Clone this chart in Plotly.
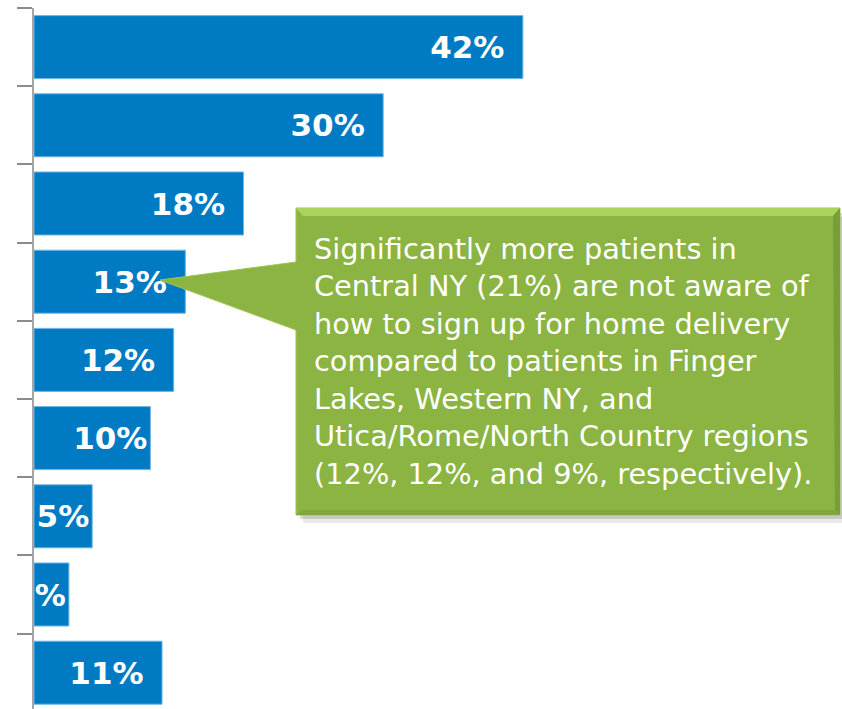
import plotly.graph_objects as go

# ---- data ----
values = [42, 30, 18, 13, 12, 10, 5, 3, 11]
positions = list(range(len(values)))
labels = [f"{v}%\u2002" if v >= 11 else f"{v}%" for v in values]
callout_lines = [
    "Significantly more patients in",
    "Central NY (21%) are not aware of",
    "how to sign up for home delivery",
    "compared to patients in Finger",
    "Lakes, Western NY, and",
    "Utica/Rome/North Country regions",
    "(12%, 12%, and 9%, respectively).",
]

W, H = 842, 709
ML, MR, MT, MB = 34, 0, 8, 0
PW, PH = W - ML - MR, H - MT - MB


def px(x):
    return (x - ML) / PW


def py(y):
    return 1 - (y - MT) / PH


def path(points):
    return "M " + " L ".join(f"{px(x):.5f},{py(y):.5f}" for x, y in points) + " Z"


fig = go.Figure()
fig.add_trace(go.Bar(
    x=values, y=positions, orientation="h",
    marker=dict(color="#007BC3", line=dict(color="#6FB6E6", width=1)),
    width=0.806,
    text=labels, textposition="inside", insidetextanchor="end",
    textangle=0, constraintext="none", cliponaxis=True,
    textfont=dict(family="DejaVu Sans", size=31, color="white", weight="bold"),
    hoverinfo="skip",
))

band = 78.2
y_top = -0.5
y_bot = y_top + PH / band

fig.update_layout(
    width=W, height=H,
    margin=dict(l=ML, r=MR, t=MT, b=MB, pad=0),
    paper_bgcolor="white", plot_bgcolor="white",
    showlegend=False,
    xaxis=dict(range=[0, PW / 11.64], visible=False, fixedrange=True),
    yaxis=dict(
        range=[y_bot, y_top], showgrid=False, zeroline=False, fixedrange=True,
        showline=True, linecolor="#A6A6A6", linewidth=2,
        ticks="outside", ticklen=15, tickwidth=2, tickcolor="#8C8C8C",
        tickmode="array", tickvals=[p - 0.5 for p in positions] + [len(values) - 0.5],
        showticklabels=False,
    ),
)

# callout (shadow, body with pointer, bevels)
def shp(points, fill, line=None):
    return dict(type="path", xref="paper", yref="paper", path=path(points),
                fillcolor=fill, line=line or dict(width=0), layer="above")


shapes = [
    shp([(303, 217), (846, 217), (846, 523), (303, 523)], "rgba(0,0,0,0.08)"),
    shp([(300, 213), (844, 213), (844, 519), (300, 519)], "rgba(0,0,0,0.14)"),
    shp([(296, 208), (840, 208), (840, 515), (296, 515),
         (296, 330), (160, 280), (296, 262)], "#8BB443",
        dict(color="#9DC655", width=1)),
    shp([(296, 208), (840, 208), (833, 216), (303, 216)], "#A8D35C"),
    shp([(840, 208), (840, 515), (835, 510), (833, 216)], "#789F37"),
    shp([(296, 515), (840, 515), (835, 510), (302, 510)], "#7FA83B"),
]
fig.update_layout(shapes=shapes)

fig.add_annotation(
    xref="paper", yref="paper", x=px(312), y=py(361),
    xanchor="left", yanchor="middle", align="left", showarrow=False,
    text="<br>".join(callout_lines),
    font=dict(family="DejaVu Sans", size=28.8, color="white"),
)

fig.write_html("out.html", config={"displayModeBar": False},
               post_script="document.body.style.margin='0';")
